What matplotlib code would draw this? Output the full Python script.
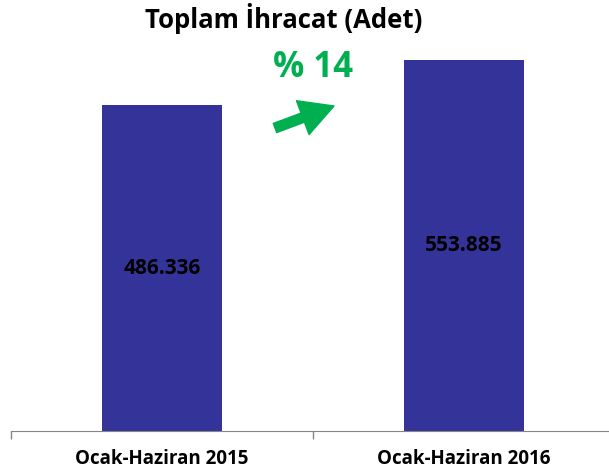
import matplotlib.pyplot as plt
from matplotlib.patches import FancyArrowPatch
from matplotlib.transforms import IdentityTransform

# data
categories = ["Ocak-Haziran 2015", "Ocak-Haziran 2016"]
values = [486336, 553885]
value_labels = ["486.336", "553.885"]
title = "Toplam İhracat (Adet)"
change_label = "% 14"

BAR_COLOR = "#333399"
GREEN = "#00B050"
plt.rcParams["font.family"] = ["Open Sans", "DejaVu Sans"]

fig = plt.figure(figsize=(6.09, 4.73), dpi=100)
ax = fig.add_axes([11 / 609, 42 / 473, 604 / 609, 431 / 473])

x = range(len(categories))
ax.bar(x, values, width=0.4, color=BAR_COLOR)
for i, (v, lab) in enumerate(zip(values, value_labels)):
    ax.text(i, v / 2, lab, ha="center", va="center", fontsize=15,
            fontweight="bold", color="black")

ax.set_xlim(-0.5, 1.5)
ax.set_ylim(0, 486336 * 431 / 326)
ax.set_yticks([])
ax.set_xticks(list(x))
ax.set_xticklabels(categories, fontsize=13.5, fontweight="bold")
ax.set_xticks([-0.5, 0.5, 1.5], minor=True)
ax.tick_params(axis="x", which="major", length=0, pad=13)
ax.tick_params(axis="x", which="minor", length=6, color="#868686", width=1)
for s in ["top", "right", "left"]:
    ax.spines[s].set_visible(False)
ax.spines["bottom"].set_color("#868686")

fig.text(284 / 609, 1 - 19 / 473, title, ha="center", va="center",
         fontsize=18.5, fontweight="bold")
fig.text(313 / 609, 1 - 68 / 473, change_label, ha="center", va="center",
         fontsize=25, fontweight="bold", color=GREEN)

# green arrow (pixel positions from bottom-left)
arrow = FancyArrowPatch((275, 473 - 128), (334, 473 - 106),
                        arrowstyle="simple,head_length=24,head_width=26,tail_width=7",
                        mutation_scale=1, shrinkA=0, shrinkB=0,
                        color=GREEN, transform=IdentityTransform())
fig.patches.append(arrow)

fig.savefig("out.png", dpi=100)
